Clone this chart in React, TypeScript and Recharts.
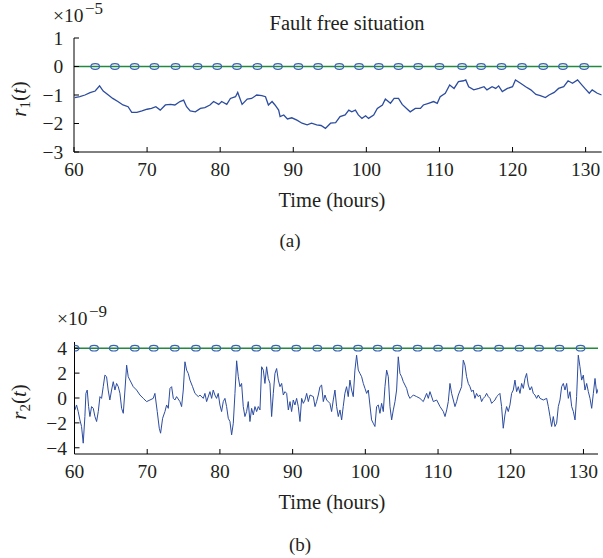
import { ComposedChart, Line, Scatter, XAxis, YAxis, ReferenceLine } from 'recharts';

const FONT = '"Liberation Serif", "DejaVu Serif", serif';
const TEXT = '#231f20';
const BLUE_LINE = '#2c4c9f';
const BLUE_MARK = '#3a61b6';
const GREEN = '#218a3c';

const hourTicks = [60, 70, 80, 90, 100, 110, 120, 130];
const r1Ticks = [-3, -2, -1, 0, 1];
const r2Ticks = [-4, -2, 0, 2, 4];

const r1Threshold = 0;
const r2Threshold = 4;

// marker times of the threshold (o) series
const markerHoursA = [
  62.9, 65.6, 68.3, 71.0, 73.9, 76.9, 79.6, 82.3, 85.1, 87.9, 90.7, 93.4, 96.3,
  99.0, 101.7, 104.4, 107.1, 110.0, 113.1, 115.7, 118.5, 121.3, 124.2, 126.9, 129.8,
];
const markerHoursB = [
  60.0, 62.7, 65.4, 68.3, 70.9, 73.8, 76.7, 79.5, 82.2, 85.0, 87.7, 90.5, 93.4,
  96.2, 99.0, 101.7, 104.4, 107.2, 110.0, 112.9, 115.5, 118.4, 121.2, 123.9, 126.7, 129.6,
];

// residual r1 (x 1e-5)
const r1Hours = [
  60.1, 60.8, 61.5, 62.2, 62.9, 63.5, 64.0, 64.7, 65.3, 66.0, 66.7, 67.4, 67.9, 68.6,
  69.3, 70.0, 70.6, 71.2, 71.8, 72.5, 73.2, 73.8, 74.5, 75.0, 75.4, 75.9, 76.6, 77.3,
  77.9, 78.6, 79.1, 79.8, 80.2, 80.9, 81.4, 82.1, 82.4, 83.0, 83.7, 84.3, 85.0, 85.7,
  86.2, 86.6, 87.1, 87.5, 88.0, 88.2, 88.7, 89.2, 89.8, 90.5, 91.2, 91.9, 92.5, 93.2,
  93.8, 94.4, 95.1, 95.8, 96.4, 97.1, 97.6, 98.0, 98.5, 98.9, 99.4, 99.9, 100.3, 101.0,
  101.5, 102.2, 102.6, 103.3, 103.8, 104.4, 104.9, 105.5, 106.0, 106.7, 107.4, 107.8,
  108.5, 109.2, 109.7, 110.1, 110.8, 111.4, 112.0, 112.6, 113.3, 113.6, 114.0, 114.7,
  115.4, 116.1, 116.5, 117.2, 117.7, 118.1, 118.6, 119.3, 120.0, 120.4, 121.1, 121.8,
  122.5, 123.2, 123.8, 124.5, 125.0, 125.7, 126.3, 127.0, 127.6, 128.2, 128.9, 129.3,
  129.9, 130.5, 130.9, 131.6, 132.2,
];
const r1Values = [
  -1.09, -1.06, -1.0, -0.92, -0.86, -0.68, -0.86, -1.0, -1.12, -1.23, -1.35, -1.41, -1.61, -1.61,
  -1.56, -1.5, -1.47, -1.41, -1.53, -1.35, -1.33, -1.35, -1.23, -1.18, -1.41, -1.56, -1.59, -1.47,
  -1.44, -1.35, -1.23, -1.33, -1.23, -1.33, -1.12, -1.06, -0.91, -1.33, -1.14, -1.12, -1.0, -1.02,
  -1.06, -1.35, -1.23, -1.35, -1.53, -1.76, -1.7, -1.84, -1.8, -1.88, -1.99, -2.05, -1.99, -2.05,
  -2.07, -2.17, -1.99, -1.97, -1.76, -1.7, -1.53, -1.59, -1.53, -1.7, -1.82, -1.73, -1.82, -1.7,
  -1.47, -1.35, -1.14, -1.29, -1.12, -1.12, -1.33, -1.47, -1.59, -1.47, -1.47, -1.35,
  -1.29, -1.23, -1.29, -1.06, -0.94, -0.65, -0.77, -0.53, -0.5, -0.47, -0.71, -0.82,
  -0.77, -0.71, -0.82, -0.71, -0.77, -0.68, -0.88, -0.77, -0.71, -0.47, -0.59, -0.71,
  -0.82, -0.98, -1.02, -1.09, -1.0, -0.91, -0.77, -0.71, -0.5, -0.59, -0.47, -0.59,
  -0.77, -0.94, -0.82, -0.94, -1.0,
];

// residual r2 (x 1e-9)
const r2Hours = [
  60.06, 60.28, 60.51, 60.74, 60.97, 61.2, 61.43, 61.57, 61.75, 61.94, 62.12, 62.35, 62.58, 62.81,
  63.04, 63.27, 63.5, 63.72, 63.95, 64.18, 64.41, 64.63, 64.86, 65.1, 65.33, 65.56, 65.79, 66.02,
  66.25, 66.48, 66.71, 66.94, 67.17, 67.39, 67.62, 68.08, 68.54, 69.0, 69.46, 69.92, 70.38, 70.83,
  71.06, 71.38, 71.66, 71.84, 72.12, 72.44, 72.67, 72.9, 73.13, 73.36, 73.59, 73.81, 74.04, 74.5,
  74.73, 74.96, 75.19, 75.42, 75.65, 75.88, 76.24, 76.57, 77.03,
  77.25, 77.71, 77.94, 78.17, 78.63, 78.86, 79.08, 79.31, 79.54, 79.77, 80.0, 80.23, 80.46, 80.69,
  80.92, 81.15, 81.38, 81.61, 81.84, 82.07, 82.3, 82.53, 82.75, 82.98, 83.21, 83.44, 83.67, 83.9,
  84.13, 84.36, 84.59, 84.82, 85.05, 85.28, 85.51, 85.74, 85.97, 86.19, 86.42, 86.65, 86.88, 87.11,
  87.34, 87.57, 87.8, 88.03, 88.26, 88.49, 88.72, 88.95, 89.18, 89.41, 89.64, 89.86, 90.09, 90.32,
  90.55, 90.78, 91.01, 91.24, 91.47, 91.7, 91.93, 92.16, 92.39, 92.85, 93.08, 93.3, 93.53, 93.76,
  93.99, 94.22, 94.45, 94.68,
  95.13, 95.36, 95.59, 95.82, 96.05, 96.28, 96.51, 96.74, 96.96, 97.19, 97.42, 97.65, 97.88, 98.11,
  98.34, 98.57, 98.8, 99.03, 99.26, 99.49, 99.72, 99.95, 100.18, 100.41, 100.63, 100.86, 101.09,
  101.32, 101.55, 101.78, 102.01, 102.24, 102.47, 102.7, 102.93, 103.16, 103.39, 103.62, 103.85,
  104.08, 104.3, 104.53, 104.76, 104.99, 105.22, 105.45, 105.68, 105.91, 106.14, 106.6, 107.06,
  107.51, 107.97, 108.43, 108.66, 108.89, 109.35, 109.81, 110.27, 110.73, 110.96, 111.19, 111.41,
  111.64, 111.87, 112.1, 112.33, 112.56, 112.79,
  113.24, 113.47, 113.7, 113.93, 114.16, 114.39, 114.62, 114.84, 115.07, 115.3, 115.53, 115.76,
  115.99, 116.22, 116.45, 116.68, 116.91, 117.14, 117.37, 117.6, 117.83, 118.06, 118.29, 118.51,
  118.74, 118.97, 119.2, 119.43, 119.66, 119.89, 120.12, 120.35, 120.58, 120.81, 121.04, 121.27,
  121.5, 121.73, 121.96, 122.18, 122.41, 122.64, 122.87, 123.1, 123.33, 123.56, 123.79, 124.02,
  124.48, 124.94, 125.17, 125.4, 125.62, 125.85, 126.08, 126.31, 126.54, 126.77, 127.0, 127.23,
  127.46, 127.69, 127.92, 128.15, 128.38, 128.61, 128.84, 129.06, 129.29, 129.52, 129.75, 129.98,
  130.21, 130.44, 130.67, 130.9, 131.13, 131.36, 131.59, 131.82, 132.05,
];
const r2Values = [
  -0.96, -0.56, -1.09, -1.76, -2.29, -3.63, -1.49, 0.37, 0.64, -0.69, -1.49, -0.69, -0.83, -1.49,
  -1.89, -1.09, 0.11, -0.03, 0.91, 1.84, 1.71, 0.64, -0.16, 0.64, 1.31, 0.64, 1.17, 0.91,
  0.37, -0.83, -1.23, 0.64, 2.64, 1.71, 1.44, 0.91, 0.64, 0.24, -0.03, -0.29, -0.16, -0.03,
  0.37, -1.09, -2.43, -2.83, -1.63, -1.09, -0.56, -0.83, 0.77, 0.91, -0.03, -0.16, 0.11, -0.29,
  -0.69, 0.64, 2.91, 2.24, 1.97, 1.44, 0.91, 0.37, 0.11,
  0.24, -0.03, 0.37, -0.29, 0.51, -0.03, 0.64, 0.24, -0.03, 0.37, -0.56, -1.09, -0.29, -0.03,
  -0.69, -1.63, -1.89, -2.96, -2.03, 0.37, 2.99, 1.71, 0.91, 1.17, -0.69, -1.49, -1.09, -0.29,
  -1.89, -0.83, -1.36, -0.69, -1.09, -0.69, -0.96, 2.51, 2.24, 1.17, 2.51, 1.57, 1.17, -1.49,
  0.37, 1.97, 2.37, 1.44, 0.91, 1.17, 0.24, 0.51, 0.37, -0.96, -0.29, -1.09, -0.16, -0.56,
  -0.03, -0.69, -1.89, -0.03, -0.43, -0.16, 0.37, -0.29, 0.24, 0.11, -0.69, -0.29, 0.24, 0.91,
  1.04, -0.29, 0.24, -0.16,
  -0.43, -1.09, -0.16, 0.64, -0.69, -1.49, -0.96, -1.76, -0.69, 0.37, 0.91, 0.11, 1.44, 0.64,
  0.11, 2.24, 3.44, 2.24, 1.97, 1.71, 1.17, 0.77, 0.37, 0.64, -0.56, -1.76, -2.03,
  -2.29, -0.69, -0.56, -1.23, -0.43, -1.09, 0.91, 2.24, 1.71, -0.69, -1.76, -0.96,
  -0.29, 0.64, 3.31, 1.97, 1.71, 1.31, 1.04, 0.77, 0.24, -0.03, 0.24, 0.11,
  -0.03, -0.29, 0.37, -0.03, 0.51, -0.29, -0.16, -0.69, -1.09, -1.49, -0.96, -0.29,
  1.17, 0.37, -0.16, -0.69, -0.29, 0.24,
  0.91, 3.04, 2.64, 1.71, 1.17, 0.91, 0.51, 0.64, -0.03, 0.37, 0.11, 0.24,
  -0.29, -0.03, 0.11, 0.37, 0.11, -0.03, -0.43, -0.29, -0.16, 0.11, 0.24, 0.37,
  -0.69, -2.43, -1.36, -0.69, -1.09, -0.56, 0.37, 0.64, 1.44, 0.51, 0.91, 0.37,
  1.17, 0.77, 1.57, 1.97, 1.04, 0.64, 0.91, 0.37, 0.24, -0.03, 0.24, -0.03,
  -0.16, -0.03, -0.69, -1.49, -2.29, -1.49, -2.29, -2.03, -0.69, -0.16, 0.91, 1.17,
  0.64, 1.17, -0.03, 0.51, -0.69, -1.09, -1.76, 0.11, 3.44, 2.51, 1.44, 1.84,
  0.64, 1.17, 0.51, -0.03, -0.83, 0.37, 1.57, 0.37, 0.77,
];

const toPoints = (hours: number[], values: number[]) =>
  hours.map((t, i) => ({ t, v: values[i] }));

const minus = (v: number) => String(v).replace('-', '\u2212');

const Ellipse = (props: any) => {
  const { cx, cy } = props;
  if (cx == null || cy == null) return null;
  return <ellipse cx={cx} cy={cy} rx={4.3} ry={2.8} fill="none" stroke={BLUE_MARK} strokeWidth={1.2} />;
};

const SideLabel = ({ viewBox, sub }: any) => {
  const cy = viewBox ? viewBox.y + viewBox.height / 2 : 0;
  return (
    <text
      transform={`translate(26, ${cy + 4}) rotate(-90)`}
      textAnchor="middle"
      fontFamily={FONT}
      fontSize={21}
      fill={TEXT}
    >
      <tspan fontStyle="italic">r</tspan>
      <tspan fontSize={15} dy={4}>{sub}</tspan>
      <tspan dy={-4}>(</tspan>
      <tspan fontStyle="italic">t</tspan>
      <tspan>)</tspan>
    </text>
  );
};

const BottomLabel = ({ baseline }: any) => (
  <text x={332} y={baseline} textAnchor="middle" fontFamily={FONT} fontSize={20.5} fill={TEXT}>
    Time (hours)
  </text>
);

interface PanelProps {
  top: number;
  height: number;
  marginTop: number;
  marginRight: number;
  axisWidth: number;
  axisHeight: number;
  yDomain: number[];
  yTicks: number[];
  yTickMargin: number;
  xMax: number;
  data: { t: number; v: number }[];
  markers: { t: number; v: number }[];
  threshold: number;
  sub: string;
  labelBaseline: number;
  lineWidth: number;
}

const Panel = (p: PanelProps) => {
  const tickStyle = { fontSize: 19.5, fill: TEXT, fontFamily: FONT };
  return (
    <div style={{ position: 'absolute', left: 0, top: p.top }}>
      <ComposedChart
        width={603}
        height={p.height}
        margin={{ top: p.marginTop, right: p.marginRight, bottom: 0, left: 0 }}
      >
        <XAxis
          dataKey="t"
          type="number"
          domain={[60, p.xMax]}
          ticks={hourTicks}
          interval={0}
          allowDataOverflow
          height={p.axisHeight}
          tickSize={-5}
          tickMargin={15.5}
          tick={tickStyle}
          stroke="#000"
          label={<BottomLabel baseline={p.labelBaseline} />}
        />
        <XAxis
          xAxisId="top"
          orientation="top"
          dataKey="t"
          type="number"
          domain={[60, p.xMax]}
          ticks={hourTicks}
          interval={0}
          allowDataOverflow
          height={0}
          tickSize={-5}
          tick={false}
          stroke="#000"
        />
        <YAxis
          type="number"
          domain={p.yDomain}
          ticks={p.yTicks}
          interval={0}
          allowDataOverflow
          width={p.axisWidth}
          tickSize={-5}
          tickMargin={p.yTickMargin}
          tick={tickStyle}
          tickFormatter={minus}
          stroke="#000"
          label={<SideLabel sub={p.sub} />}
        />
        <YAxis
          yAxisId="right"
          orientation="right"
          type="number"
          domain={p.yDomain}
          ticks={p.yTicks}
          interval={0}
          allowDataOverflow
          width={0}
          tickSize={-5}
          tick={false}
          stroke="#000"
        />
        <Line
          data={p.data}
          dataKey="v"
          stroke={BLUE_LINE}
          strokeWidth={p.lineWidth}
          dot={false}
          isAnimationActive={false}
        />
        <ReferenceLine y={p.threshold} stroke={GREEN} strokeWidth={1.5} />
        <Scatter data={p.markers} dataKey="v" shape={Ellipse} isAnimationActive={false} />
      </ComposedChart>
    </div>
  );
};

const Overlay = () => (
  <svg width={603} height={558} style={{ position: 'absolute', left: 0, top: 0, pointerEvents: 'none' }}>
    <g fontFamily={FONT} fill={TEXT}>
      <text x={347} y={30} fontSize={20.5} textAnchor="middle">Fault free situation</text>
      <text x={53} y={22} fontSize={19.5}>×10</text>
      <text x={85} y={14} fontSize={17}>−5</text>
      <text x={57} y={325} fontSize={19.5}>×10</text>
      <text x={89} y={317} fontSize={17}>−9</text>
      <text x={290} y={247} fontSize={19} textAnchor="middle">(a)</text>
      <text x={300} y={551} fontSize={19} textAnchor="middle">(b)</text>
    </g>
  </svg>
);

export default function App() {
  const r1Data = toPoints(r1Hours, r1Values);
  const r2Data = toPoints(r2Hours, r2Values);
  const markersA = markerHoursA.map((t) => ({ t, v: r1Threshold }));
  const markersB = markerHoursB.map((t) => ({ t, v: r2Threshold }));

  return (
    <div style={{ position: 'absolute', left: 0, top: 0, width: 603, height: 558, background: '#fff' }}>
      <Panel
        top={0}
        height={215}
        marginTop={38}
        marginRight={1.3}
        axisWidth={74}
        axisHeight={63}
        yDomain={[-3, 1]}
        yTicks={r1Ticks}
        yTickMargin={15.7}
        xMax={132.2}
        data={r1Data}
        markers={markersA}
        threshold={r1Threshold}
        sub="1"
        labelBaseline={207}
        lineWidth={1.3}
      />
      <Panel
        top={300}
        height={220}
        marginTop={42}
        marginRight={5}
        axisWidth={74.5}
        axisHeight={66}
        yDomain={[-4.5, 4.5]}
        yTicks={r2Ticks}
        yTickMargin={12.5}
        xMax={132}
        data={r2Data}
        markers={markersB}
        threshold={r2Threshold}
        sub="2"
        labelBaseline={209}
        lineWidth={1}
      />
      <Overlay />
    </div>
  );
}
